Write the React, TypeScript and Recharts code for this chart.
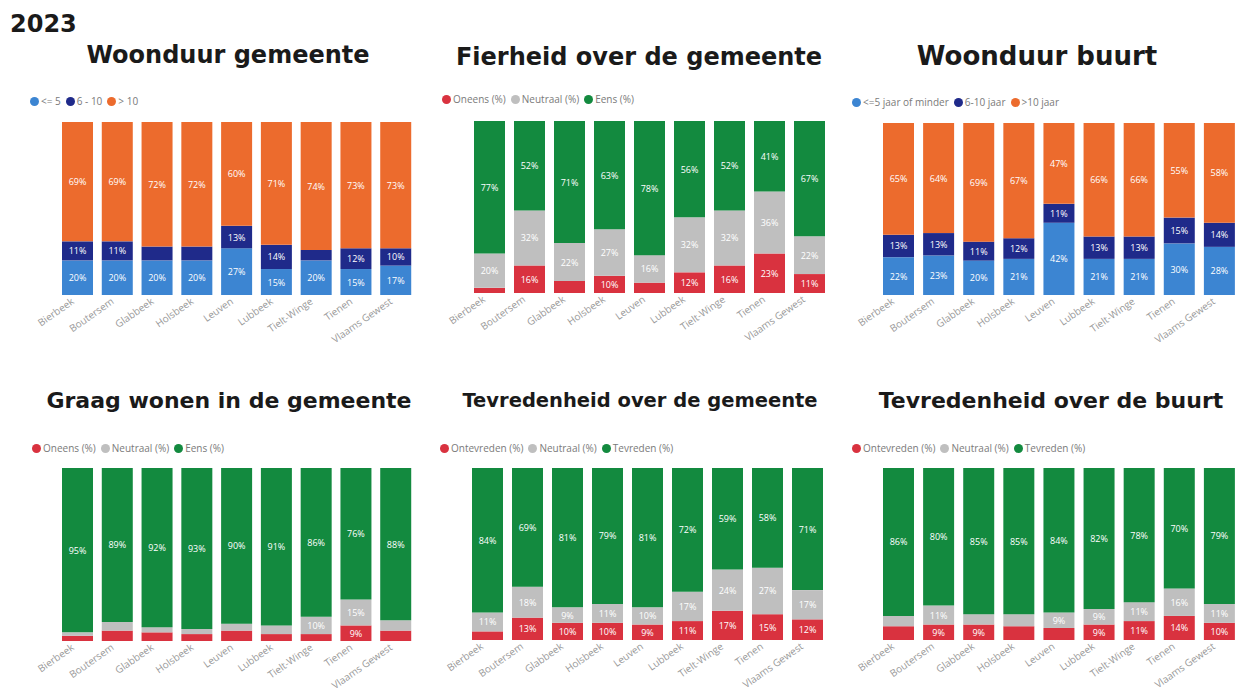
import React from 'react';
import { BarChart, Bar, XAxis, YAxis, LabelList } from 'recharts';

const categories = ['Bierbeek', 'Boutersem', 'Glabbeek', 'Holsbeek', 'Leuven', 'Lubbeek', 'Tielt-Winge', 'Tienen', 'Vlaams Gewest'];

// Woonduur gemeente
const wgLabels = ['<= 5', '6 - 10', '> 10'];
const wgShort = [20, 20, 20, 20, 27, 15, 20, 15, 17];
const wgMid = [11, 11, 8, 8, 13, 14, 6, 12, 10];
const wgLong = [69, 69, 72, 72, 60, 71, 74, 73, 73];

// Fierheid over de gemeente
const fhLabels = ['Oneens (%)', 'Neutraal (%)', 'Eens (%)'];
const fhOneens = [3, 16, 7, 10, 6, 12, 16, 23, 11];
const fhNeutraal = [20, 32, 22, 27, 16, 32, 32, 36, 22];
const fhEens = [77, 52, 71, 63, 78, 56, 52, 41, 67];

// Woonduur buurt
const wbLabels = ['<=5 jaar of minder', '6-10 jaar', '>10 jaar'];
const wbShort = [22, 23, 20, 21, 42, 21, 21, 30, 28];
const wbMid = [13, 13, 11, 12, 11, 13, 13, 15, 14];
const wbLong = [65, 64, 69, 67, 47, 66, 66, 55, 58];

// Graag wonen in de gemeente
const gwLabels = ['Oneens (%)', 'Neutraal (%)', 'Eens (%)'];
const gwOneens = [3, 6, 5, 4, 6, 4, 4, 9, 6];
const gwNeutraal = [2, 5, 3, 3, 4, 5, 10, 15, 6];
const gwEens = [95, 89, 92, 93, 90, 91, 86, 76, 88];

// Tevredenheid over de gemeente
const tgLabels = ['Ontevreden (%)', 'Neutraal (%)', 'Tevreden (%)'];
const tgOntevreden = [5, 13, 10, 10, 9, 11, 17, 15, 12];
const tgNeutraal = [11, 18, 9, 11, 10, 17, 24, 27, 17];
const tgTevreden = [84, 69, 81, 79, 81, 72, 59, 58, 71];

// Tevredenheid over de buurt
const tbLabels = ['Ontevreden (%)', 'Neutraal (%)', 'Tevreden (%)'];
const tbOntevreden = [8, 9, 9, 8, 7, 9, 11, 14, 10];
const tbNeutraal = [6, 11, 6, 7, 9, 9, 11, 16, 11];
const tbTevreden = [86, 80, 85, 85, 84, 82, 78, 70, 79];

const LIGHT_BLUE = '#3C85D2';
const DARK_BLUE = '#1F2A8A';
const ORANGE = '#EC6B2D';
const RED = '#D9323F';
const GREY = '#BFBFBF';
const GREEN = '#138A3F';

const blueColors = [LIGHT_BLUE, DARK_BLUE, ORANGE];
const rygColors = [RED, GREY, GREEN];

const build = (a: number[], b: number[], c: number[]) =>
  categories.map((name, i) => ({ name, s0: a[i], s1: b[i], s2: c[i] }));

const renderLabel = (props: any) => {
  const { x, y, width, height, value } = props;
  if (value == null || Number(value) < 9) return null;
  return (
    <text
      x={Number(x) + Number(width) / 2}
      y={Number(y) + Number(height) / 2}
      fill="#ffffff"
      fontSize={9}
      textAnchor="middle"
      dominantBaseline="central"
      fontFamily="'Open Sans', sans-serif"
    >
      {value}%
    </text>
  );
};

const Tick = (props: any) => {
  const { x, y, payload } = props;
  return (
    <g transform={`translate(${x - 3},${y + 8})`}>
      <text x={0} y={0} textAnchor="end" fill="#999999" fontSize={10} fontFamily="'Open Sans', sans-serif" transform="rotate(-35)">
        {payload.value}
      </text>
    </g>
  );
};

type PanelProps = {
  plotLeft: number;
  plotTop: number;
  plotWidth: number;
  plotHeight: number;
  data: any[];
  names: string[];
  colors: string[];
};

const LEFT_PAD = 55;

const Panel = ({ plotLeft, plotTop, plotWidth, plotHeight, data, names, colors }: PanelProps) => {
  const axisH = 60;
  return (
    <div style={{ position: 'absolute', left: plotLeft - LEFT_PAD, top: plotTop }}>
      <BarChart
        width={plotWidth + LEFT_PAD}
        height={plotHeight + axisH}
        data={data}
        margin={{ top: 0, right: 0, bottom: 0, left: LEFT_PAD }}
        barSize={31}
      >
        <XAxis
          dataKey="name"
          interval={0}
          axisLine={false}
          tickLine={false}
          tickSize={0}
          tickMargin={0}
          height={axisH}
          tick={<Tick />}
        />
        <YAxis hide domain={[0, 100]} />
        {['s0', 's1', 's2'].map((k, i) => (
          <Bar key={k} dataKey={k} name={names[i]} stackId="a" fill={colors[i]} isAnimationActive={false}>
            <LabelList dataKey={k} content={renderLabel} />
          </Bar>
        ))}
      </BarChart>
    </div>
  );
};

const LegendRow = ({ left, top, names, colors, fontSize }: { left: number; top: number; names: string[]; colors: string[]; fontSize: number }) => (
  <div
    style={{
      position: 'absolute',
      left,
      top,
      display: 'flex',
      alignItems: 'center',
      whiteSpace: 'nowrap',
      fontFamily: "'Open Sans', sans-serif",
      fontSize,
      color: '#7a7a7a',
      lineHeight: '12px',
    }}
  >
    {names.map((n, i) => (
      <span key={n} style={{ display: 'flex', alignItems: 'center', marginRight: 5 }}>
        <span style={{ width: 9, height: 9, borderRadius: '50%', background: colors[i], display: 'inline-block', marginRight: 2 }} />
        {n}
      </span>
    ))}
  </div>
);

const Title = ({ cx, top, text, size }: { cx: number; top: number; text: string; size: number }) => (
  <div
    style={{
      position: 'absolute',
      left: cx,
      top,
      transform: 'translateX(-50%)',
      whiteSpace: 'nowrap',
      fontFamily: "'DejaVu Sans', sans-serif",
      fontWeight: 'bold',
      fontSize: size,
      lineHeight: `${size}px`,
      color: '#1a1a1a',
    }}
  >
    {text}
  </div>
);

export default function App() {
  return (
    <div style={{ position: 'absolute', left: 0, top: 0, width: 1240, height: 693, background: '#fff', overflow: 'hidden' }}>
      <div
        style={{
          position: 'absolute',
          left: 10,
          top: 12,
          fontFamily: "'DejaVu Sans', sans-serif",
          fontWeight: 'bold',
          fontSize: 24,
          lineHeight: '24px',
          color: '#1a1a1a',
        }}
      >
        2023
      </div>

      <Title cx={228} top={43} text="Woonduur gemeente" size={24} />
      <Title cx={639} top={45} text="Fierheid over de gemeente" size={24} />
      <Title cx={1037} top={43} text="Woonduur buurt" size={26} />
      <Title cx={229} top={390} text="Graag wonen in de gemeente" size={22} />
      <Title cx={640} top={391} text="Tevredenheid over de gemeente" size={19.5} />
      <Title cx={1051} top={390} text="Tevredenheid over de buurt" size={22} />

      <LegendRow left={30} top={95} names={wgLabels} colors={blueColors} fontSize={10} />
      <LegendRow left={442} top={93} names={fhLabels} colors={rygColors} fontSize={10} />
      <LegendRow left={852} top={96} names={wbLabels} colors={blueColors} fontSize={10} />
      <LegendRow left={32} top={442} names={gwLabels} colors={rygColors} fontSize={10} />
      <LegendRow left={440} top={442} names={tgLabels} colors={rygColors} fontSize={10} />
      <LegendRow left={852} top={442} names={tbLabels} colors={rygColors} fontSize={10} />

      <Panel plotLeft={58} plotTop={122} plotWidth={358} plotHeight={173} data={build(wgShort, wgMid, wgLong)} names={wgLabels} colors={blueColors} />
      <Panel plotLeft={469} plotTop={121} plotWidth={360} plotHeight={172} data={build(fhOneens, fhNeutraal, fhEens)} names={fhLabels} colors={rygColors} />
      <Panel plotLeft={878} plotTop={123} plotWidth={361} plotHeight={172} data={build(wbShort, wbMid, wbLong)} names={wbLabels} colors={blueColors} />
      <Panel plotLeft={58} plotTop={468} plotWidth={358} plotHeight={173} data={build(gwOneens, gwNeutraal, gwEens)} names={gwLabels} colors={rygColors} />
      <Panel plotLeft={467} plotTop={468} plotWidth={360} plotHeight={172} data={build(tgOntevreden, tgNeutraal, tgTevreden)} names={tgLabels} colors={rygColors} />
      <Panel plotLeft={878} plotTop={468} plotWidth={361} plotHeight={172} data={build(tbOntevreden, tbNeutraal, tbTevreden)} names={tbLabels} colors={rygColors} />
    </div>
  );
}
